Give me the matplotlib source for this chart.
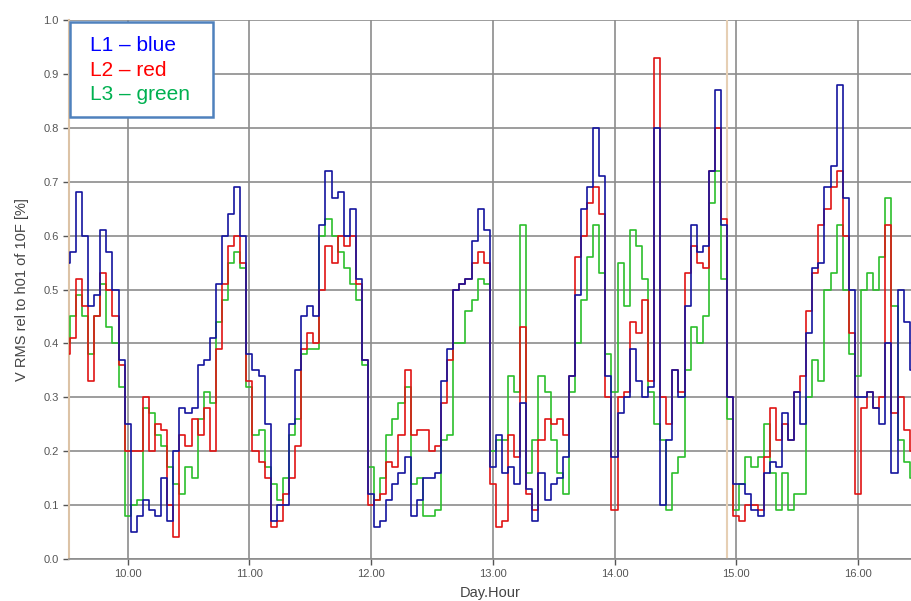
import numpy as np
import matplotlib
matplotlib.use("Agg")
import matplotlib.pyplot as plt

# sample times, every 0.05 h from 9.50 to 16.45
hours = np.round(9.50 + 0.05 * np.arange(140), 2)

l1_blue = [
    0.55, 0.57, 0.68, 0.60, 0.47, 0.49, 0.61, 0.57, 0.50, 0.37,
    0.25, 0.05, 0.08, 0.11, 0.09, 0.08, 0.15, 0.07, 0.20, 0.28,
    0.27, 0.28, 0.36, 0.37, 0.41, 0.51, 0.60, 0.64, 0.69, 0.60,
    0.38, 0.35, 0.34, 0.25, 0.07, 0.10, 0.10, 0.25, 0.35, 0.45,
    0.47, 0.45, 0.62, 0.72, 0.67, 0.68, 0.60, 0.65, 0.52, 0.37,
    0.12, 0.06, 0.07, 0.11, 0.14, 0.16, 0.19, 0.08, 0.11, 0.15,
    0.15, 0.16, 0.33, 0.39, 0.50, 0.51, 0.52, 0.59, 0.65, 0.61,
    0.17, 0.23, 0.16, 0.17, 0.14, 0.29, 0.13, 0.07, 0.16, 0.11,
    0.14, 0.15, 0.19, 0.34, 0.49, 0.65, 0.69, 0.80, 0.71, 0.34,
    0.19, 0.27, 0.30, 0.39, 0.33, 0.30, 0.32, 0.80, 0.10, 0.22,
    0.35, 0.30, 0.47, 0.62, 0.57, 0.58, 0.72, 0.87, 0.62, 0.30,
    0.14, 0.14, 0.12, 0.09, 0.08, 0.16, 0.18, 0.17, 0.27, 0.22,
    0.31, 0.25, 0.42, 0.54, 0.55, 0.69, 0.73, 0.88, 0.67, 0.50,
    0.30, 0.30, 0.31, 0.28, 0.25, 0.40, 0.16, 0.50, 0.44, 0.35,
]

l2_red = [
    0.38, 0.41, 0.52, 0.47, 0.33, 0.45, 0.53, 0.50, 0.45, 0.36,
    0.20, 0.20, 0.20, 0.30, 0.20, 0.25, 0.24, 0.10, 0.04, 0.23,
    0.21, 0.26, 0.23, 0.28, 0.20, 0.39, 0.51, 0.58, 0.60, 0.55,
    0.33, 0.20, 0.18, 0.15, 0.06, 0.07, 0.12, 0.15, 0.21, 0.39,
    0.42, 0.40, 0.50, 0.58, 0.55, 0.60, 0.58, 0.60, 0.51, 0.37,
    0.10, 0.11, 0.12, 0.18, 0.17, 0.23, 0.35, 0.23, 0.24, 0.24,
    0.20, 0.21, 0.29, 0.37, 0.50, 0.51, 0.52, 0.55, 0.57, 0.55,
    0.14, 0.06, 0.07, 0.23, 0.19, 0.43, 0.12, 0.09, 0.22, 0.26,
    0.25, 0.26, 0.23, 0.34, 0.56, 0.60, 0.66, 0.69, 0.64, 0.30,
    0.09, 0.30, 0.31, 0.44, 0.42, 0.48, 0.33, 0.93, 0.30, 0.25,
    0.35, 0.31, 0.53, 0.58, 0.55, 0.54, 0.72, 0.80, 0.63, 0.30,
    0.08, 0.07, 0.10, 0.10, 0.09, 0.19, 0.28, 0.22, 0.25, 0.22,
    0.31, 0.34, 0.46, 0.53, 0.62, 0.65, 0.69, 0.72, 0.60, 0.42,
    0.12, 0.28, 0.31, 0.28, 0.30, 0.62, 0.27, 0.30, 0.24, 0.20,
]

l3_green = [
    0.40, 0.45, 0.49, 0.45, 0.38, 0.45, 0.51, 0.43, 0.40, 0.32,
    0.08, 0.10, 0.11, 0.28, 0.27, 0.23, 0.21, 0.17, 0.14, 0.12,
    0.17, 0.15, 0.26, 0.31, 0.29, 0.44, 0.48, 0.55, 0.57, 0.54,
    0.32, 0.23, 0.24, 0.17, 0.14, 0.11, 0.15, 0.23, 0.26, 0.38,
    0.39, 0.39, 0.60, 0.63, 0.60, 0.57, 0.54, 0.51, 0.48, 0.36,
    0.17, 0.11, 0.15, 0.23, 0.26, 0.29, 0.32, 0.14, 0.15, 0.08,
    0.08, 0.09, 0.22, 0.23, 0.40, 0.40, 0.46, 0.48, 0.52, 0.51,
    0.20, 0.22, 0.22, 0.34, 0.31, 0.62, 0.16, 0.22, 0.34, 0.31,
    0.22, 0.16, 0.12, 0.31, 0.40, 0.48, 0.56, 0.62, 0.53, 0.38,
    0.31, 0.55, 0.47, 0.61, 0.58, 0.52, 0.31, 0.25, 0.22, 0.09,
    0.16, 0.19, 0.35, 0.43, 0.40, 0.45, 0.66, 0.72, 0.52, 0.26,
    0.09, 0.14, 0.19, 0.17, 0.19, 0.25, 0.16, 0.09, 0.16, 0.09,
    0.12, 0.12, 0.30, 0.37, 0.33, 0.50, 0.53, 0.62, 0.50, 0.38,
    0.34, 0.50, 0.53, 0.50, 0.56, 0.67, 0.47, 0.22, 0.18, 0.15,
]

x_ticks = [10, 11, 12, 13, 14, 15, 16]
x_tick_labels = ["10.00", "11.00", "12.00", "13.00", "14.00", "15.00", "16.00"]
y_ticks = [0.0, 0.1, 0.2, 0.3, 0.4, 0.5, 0.6, 0.7, 0.8, 0.9, 1.0]
marker_hour = 14.927

plt.rcParams["font.family"] = ["Liberation Sans", "DejaVu Sans"]

fig = plt.figure(figsize=(9.12, 6.01), dpi=100)
ax = fig.add_axes([69 / 912, 42 / 601, 843 / 912, 539 / 601])

ax.plot(hours, l3_green, color="#2cbf2c", lw=1.2, drawstyle="steps-mid", zorder=3)
ax.plot(hours, l2_red, color="#e01414", lw=1.2, drawstyle="steps-mid", zorder=4)
ax.plot(hours, l1_blue, color="#14149e", lw=1.2, drawstyle="steps-mid", zorder=5)

ax.axvline(marker_hour, color="#e6cfb4", lw=1.5, zorder=2)

ax.set_xlim(9.518, 16.444)
ax.set_ylim(0, 1.0)
ax.set_xticks(x_ticks)
ax.set_xticklabels(x_tick_labels)
ax.set_yticks(y_ticks)
ax.set_yticklabels([f"{v:.1f}" for v in y_ticks])

ax.grid(True, color="#8c8c8c", lw=1.2)
ax.set_axisbelow(True)
for side in ["top", "right"]:
    ax.spines[side].set_visible(False)
ax.spines["left"].set_color("#dcc3a6")
ax.spines["left"].set_linewidth(1.5)
ax.spines["bottom"].set_color("#8c8c8c")
ax.spines["bottom"].set_linewidth(1.2)
ax.tick_params(colors="#555555", labelsize=8, length=4, width=1)

ax.set_xlabel("Day.Hour", fontsize=10.5, color="#444444", labelpad=5)
ax.set_ylabel("V RMS rel to h01 of 10F [%]", fontsize=10.5, color="#444444", labelpad=10)

# legend as a plain text box
ax.text(0.025, 0.9536, "L1 \u2013 blue", color="#0000ff", fontsize=15,
        transform=ax.transAxes, va="center", zorder=7)
ax.text(0.025, 0.9072, "L2 \u2013 red", color="#ff0000", fontsize=15,
        transform=ax.transAxes, va="center", zorder=7)
ax.text(0.025, 0.8627, "L3 \u2013 green", color="#00b050", fontsize=15,
        transform=ax.transAxes, va="center", zorder=7)
box = plt.Rectangle((0.001, 0.82), 0.170, 0.176, transform=ax.transAxes,
                    facecolor="white", edgecolor="#4f81bd", lw=1.8, zorder=6)
ax.add_patch(box)

fig.savefig("out.png", dpi=100)
